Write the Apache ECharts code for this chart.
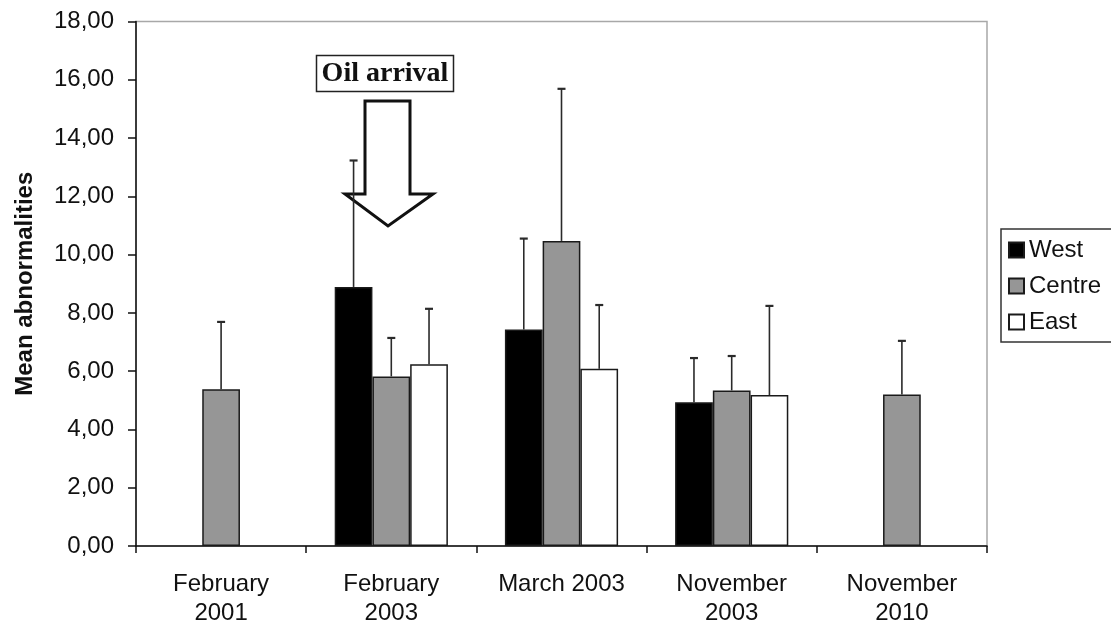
<!DOCTYPE html>
<html>
<head>
<meta charset="utf-8">
<title>Mean abnormalities by survey</title>
<script src="https://cdn.jsdelivr.net/npm/echarts@6/dist/echarts.min.js"></script>
<style>
  html, body { margin: 0; padding: 0; background: #fff; }
  #chart { width: 1111px; height: 628px; }
</style>
</head>
<body>
<div id="chart"></div>
<script>
// Survey campaigns (x axis)
const categories = ['February\n2001', 'February\n2003', 'March 2003', 'November\n2003', 'November\n2010'];

// Mean number of abnormalities per zone (null = zone not sampled)
const westMean   = [null, 8.89, 7.43, 4.93, null];
const centreMean = [5.38, 5.82, 10.47, 5.34, 5.20];
const eastMean   = [null, 6.24, 6.08, 5.18, null];

// Standard deviations, drawn as upper error bars
const westSD   = [null, 4.34, 3.12, 1.52, null];
const centreSD = [2.31, 1.32, 5.22, 1.18, 1.84];
const eastSD   = [null, 1.90, 2.19, 3.06, null];

const yTicks = { min: 0, max: 18, interval: 2 };

const FONT = '"Liberation Sans", Arial, sans-serif';
const BAR_CATEGORY_GAP = 0.335;
const seriesCount = 3;

// Error-bar series: a vertical whisker with a cap, aligned on the matching bar
function errorSeries(name, means, sds, index) {
  const data = means.map((m, i) => (m == null ? null : [i, m, m + sds[i]]));
  return {
    type: 'custom',
    name: name + ' SD',
    z: 5,
    silent: true,
    data: data.filter(d => d !== null),
    encode: { x: 0, y: [1, 2] },
    renderItem: function (params, api) {
      const ci = api.value(0);
      const band = api.size([1, 0])[0];
      const barW = band * (1 - BAR_CATEGORY_GAP) / seriesCount;
      const offset = (index - (seriesCount - 1) / 2) * barW;
      const base = api.coord([ci, api.value(1)]);
      const top = api.coord([ci, api.value(2)]);
      const x = base[0] + offset;
      const cap = 4;
      const style = { stroke: '#2a2a2a', lineWidth: 1.6 };
      return {
        type: 'group',
        children: [
          { type: 'line', shape: { x1: x, y1: base[1], x2: x, y2: top[1] }, style: style },
          { type: 'line', shape: { x1: x - cap, y1: top[1], x2: x + cap, y2: top[1] }, style: Object.assign({}, style, { lineWidth: 2.2 }) }
        ]
      };
    }
  };
}

function barSeries(name, values, fill) {
  return {
    type: 'bar',
    name: name,
    data: values,
    barGap: '0%',
    barCategoryGap: (BAR_CATEGORY_GAP * 100) + '%',
    itemStyle: { color: fill, borderColor: '#1a1a1a', borderWidth: 1.5 },
    emphasis: { disabled: true }
  };
}

const chart = echarts.init(document.getElementById('chart'), null, { renderer: 'canvas' });

chart.setOption({
  animation: false,
  backgroundColor: '#ffffff',
  textStyle: { fontFamily: FONT },
  grid: {
    left: 136, right: 124, top: 21.5, bottom: 82,
    show: true, borderColor: '#a8a8a8', borderWidth: 1.5, backgroundColor: 'transparent'
  },
  legend: {
    orient: 'vertical',
    left: 1001, top: 229,
    data: ['West', 'Centre', 'East'],
    itemWidth: 15, itemHeight: 15, itemGap: 12,
    padding: [9, 30, 8, 7],
    borderColor: '#333', borderWidth: 1.5,
    icon: 'rect',
    textStyle: { fontFamily: FONT, fontSize: 24, lineHeight: 24, color: '#111' },
    selectedMode: false
  },
  xAxis: {
    type: 'category',
    data: categories,
    axisLine: { lineStyle: { color: '#111', width: 1.5 } },
    axisTick: { show: true, length: 7, lineStyle: { color: '#111', width: 1.5 } },
    axisLabel: {
      fontFamily: FONT, fontSize: 24, color: '#111', lineHeight: 29,
      margin: 24, verticalAlign: 'top', interval: 0
    },
    splitLine: { show: false }
  },
  yAxis: {
    type: 'value',
    min: yTicks.min, max: yTicks.max, interval: yTicks.interval,
    name: 'Mean abnormalities',
    nameLocation: 'middle',
    nameGap: 99,
    nameRotate: 90,
    nameTextStyle: { fontFamily: FONT, fontSize: 24, fontWeight: 'bold', color: '#111' },
    axisLine: { show: true, lineStyle: { color: '#111', width: 1.5 } },
    axisTick: { show: true, length: 8, lineStyle: { color: '#111', width: 1.5 } },
    axisLabel: {
      fontFamily: FONT, fontSize: 24, color: '#111', margin: 22,
      formatter: v => v.toFixed(2).replace('.', ',')
    },
    splitLine: { show: false }
  },
  series: [
    barSeries('West', westMean, '#000000'),
    barSeries('Centre', centreMean, '#969696'),
    barSeries('East', eastMean, '#ffffff'),
    errorSeries('West', westMean, westSD, 0),
    errorSeries('Centre', centreMean, centreSD, 1),
    errorSeries('East', eastMean, eastSD, 2)
  ],
  graphic: [
    {
      type: 'group',
      z: 20,
      children: [
        {
          type: 'rect',
          shape: { x: 316.5, y: 55.5, width: 137, height: 36 },
          style: { fill: '#fff', stroke: '#222', lineWidth: 1.5 }
        },
        {
          type: 'text',
          x: 385, y: 74,
          style: {
            text: 'Oil arrival',
            fontFamily: '"Liberation Serif", "Times New Roman", serif',
            fontWeight: 'bold', fontSize: 28, fill: '#111',
            align: 'center', verticalAlign: 'middle'
          }
        },
        {
          type: 'polygon',
          shape: {
            points: [[365, 101], [410, 101], [410, 194], [433, 194], [388, 226], [345, 194], [365, 194]]
          },
          style: { fill: '#fff', stroke: '#111', lineWidth: 3, lineJoin: 'miter' }
        }
      ]
    }
  ]
});
</script>
</body>
</html>
